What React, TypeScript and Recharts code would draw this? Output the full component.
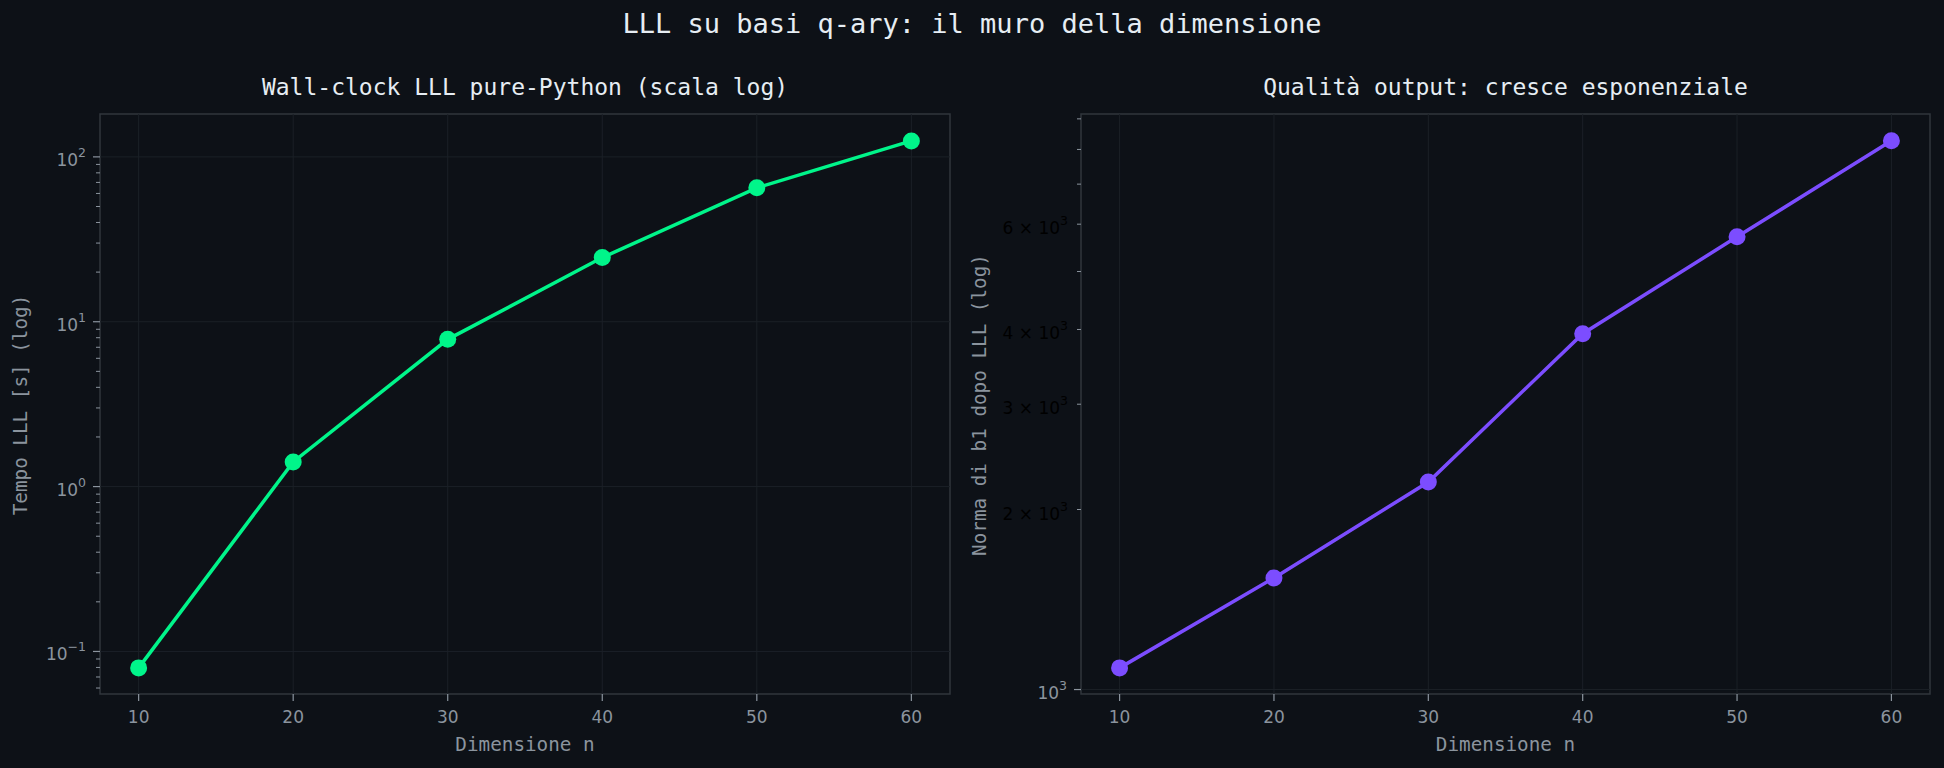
import { LineChart, Line, XAxis, YAxis, ReferenceLine, ReferenceArea } from "recharts";

// dimensione del reticolo
const dims = [10, 20, 30, 40, 50, 60];
// tempo LLL in secondi
const tempoLLL = [0.0795, 1.41, 7.82, 24.5, 64.9, 125];
// norma di b1 dopo LLL
const normaB1 = [1087, 1537, 2223, 3936, 5715, 8273];

const xTicks = [10, 20, 30, 40, 50, 60];
const tempoMajor = [0.1, 1, 10, 100];
const normaMajor = [1000];
const normaMinorLabels = [2000, 3000, 4000, 6000];

const BG = "#0d1117";
const FRAME = "#30363d";
const GRID = "#1b2027";
const MUTED = "#8b949e";
const TITLE = "#e6edf3";
const GREEN = "#00f58a";
const PURPLE = "#7c4dff";
const MONO = "'DejaVu Sans Mono', monospace";
const SANS = "'DejaVu Sans', sans-serif";

const X_DOMAIN: [number, number] = [7.5, 62.5];
const TEMPO_DOMAIN: [number, number] = [0.0552, 182];
const NORMA_DOMAIN: [number, number] = [983, 9170];

const tempoData = dims.map((d, i) => ({ n: d, t: tempoLLL[i] }));
const normaData = dims.map((d, i) => ({ n: d, v: normaB1[i] }));

function logTicks(domain: [number, number]) {
  const out: number[] = [];
  for (let e = -3; e <= 5; e++) {
    for (let m = 1; m <= 9; m++) {
      const v = m * Math.pow(10, e);
      if (v >= domain[0] && v <= domain[1]) out.push(v);
    }
  }
  return out;
}

const near = (a: number, b: number) => Math.abs(a - b) / b < 1e-6;
const sup = (e: number) => (e < 0 ? "\u2212" + Math.abs(e) : String(e));

function XTick(props: any) {
  const { x, y, payload } = props;
  return (
    <g>
      <line x1={x} x2={x} y1={y} y2={y + 7} stroke={MUTED} strokeWidth={1.2} />
      <text x={x} y={y + 29} textAnchor="middle" fill={MUTED} fontSize={17} fontFamily={SANS}>
        {payload.value}
      </text>
    </g>
  );
}

function makeYTick(majors: number[], minorLabels: number[]) {
  return function YTick(props: any) {
    const { x, y, payload } = props;
    const v = payload.value as number;
    const major = majors.some((m) => near(v, m));
    const labelled = minorLabels.some((m) => near(v, m));
    const e = Math.floor(Math.log10(v) + 1e-9);
    const mant = Math.round(v / Math.pow(10, e));
    return (
      <g>
        <line x1={x - (major ? 7 : 4)} x2={x} y1={y} y2={y} stroke={MUTED} strokeWidth={major ? 1.2 : 1} />
        {major && (
          <text x={x - 14} y={y + 9} textAnchor="end" fill={MUTED} fontSize={17} fontFamily={SANS}>
            10
            <tspan dy={-9} fontSize={12.5}>
              {sup(e)}
            </tspan>
          </text>
        )}
        {labelled && (
          <text x={x - 13} y={y + 10} textAnchor="end" fill="#000000" fontSize={17} fontFamily={SANS}>
            {`${mant} × 10`}
            <tspan dy={-9} fontSize={12.5}>
              {sup(e)}
            </tspan>
          </text>
        )}
      </g>
    );
  };
}

const TempoTick = makeYTick(tempoMajor, []);
const NormaTick = makeYTick(normaMajor, normaMinorLabels);

function Panel(props: {
  data: any[];
  dataKey: string;
  color: string;
  domain: [number, number];
  majors: number[];
  tick: any;
  yWidth: number;
  right: number;
}) {
  const { data, dataKey, color, domain, majors, tick, yWidth, right } = props;
  return (
    <LineChart width={972} height={768} data={data} margin={{ top: 114, right, bottom: 34, left: 0 }}>
      {xTicks.map((v) => (
        <ReferenceLine key={"vx" + v} x={v} stroke={GRID} strokeWidth={1} ifOverflow="hidden" />
      ))}
      {majors.map((v) => (
        <ReferenceLine key={"hy" + v} y={v} stroke={GRID} strokeWidth={1} ifOverflow="hidden" />
      ))}
      <XAxis
        dataKey="n"
        type="number"
        domain={X_DOMAIN}
        ticks={xTicks}
        interval={0}
        allowDataOverflow
        axisLine={false}
        tickLine={false}
        tickSize={0}
        tickMargin={0}
        height={40}
        tick={<XTick />}
      />
      <YAxis
        type="number"
        scale="log"
        domain={domain}
        ticks={logTicks(domain)}
        interval={0}
        allowDataOverflow
        axisLine={false}
        tickLine={false}
        tickSize={0}
        tickMargin={0}
        width={yWidth}
        tick={tick}
      />
      <ReferenceArea
        x1={X_DOMAIN[0]}
        x2={X_DOMAIN[1]}
        y1={domain[0]}
        y2={domain[1]}
        fill="none"
        fillOpacity={0}
        stroke={FRAME}
        strokeWidth={1.5}
        ifOverflow="visible"
      />
      <Line
        type="linear"
        dataKey={dataKey}
        stroke={color}
        strokeWidth={3.5}
        dot={{ r: 8.5, fill: color, stroke: "none" }}
        activeDot={false}
        isAnimationActive={false}
      />
    </LineChart>
  );
}

export default function App() {
  return (
    <div style={{ position: "absolute", left: 0, top: 0, width: 1944, height: 768, background: BG, overflow: "hidden" }}>
      <div style={{ position: "absolute", left: 0, top: 0 }}>
        <Panel
          data={tempoData}
          dataKey="t"
          color={GREEN}
          domain={TEMPO_DOMAIN}
          majors={tempoMajor}
          tick={TempoTick}
          yWidth={100}
          right={22}
        />
      </div>
      <div style={{ position: "absolute", left: 972, top: 0 }}>
        <Panel
          data={normaData}
          dataKey="v"
          color={PURPLE}
          domain={NORMA_DOMAIN}
          majors={normaMajor}
          tick={NormaTick}
          yWidth={109}
          right={14}
        />
      </div>
      <svg width={1944} height={768} style={{ position: "absolute", left: 0, top: 0, pointerEvents: "none" }}>
        <text x={972} y={33} textAnchor="middle" fill={TITLE} fontSize={27} fontFamily={MONO}>
          LLL su basi q-ary: il muro della dimensione
        </text>
        <text x={525} y={95} textAnchor="middle" fill={TITLE} fontSize={23} fontFamily={MONO}>
          Wall-clock LLL pure-Python (scala log)
        </text>
        <text x={1505.5} y={95} textAnchor="middle" fill={TITLE} fontSize={23} fontFamily={MONO}>
          Qualità output: cresce esponenziale
        </text>
        <text x={525} y={751} textAnchor="middle" fill={MUTED} fontSize={19.3} fontFamily={MONO}>
          Dimensione n
        </text>
        <text x={1505.5} y={751} textAnchor="middle" fill={MUTED} fontSize={19.3} fontFamily={MONO}>
          Dimensione n
        </text>
        <text
          x={27}
          y={405}
          transform="rotate(-90 27 405)"
          textAnchor="middle"
          fill={MUTED}
          fontSize={19.3}
          fontFamily={MONO}
        >
          Tempo LLL [s] (log)
        </text>
        <text
          x={986}
          y={405}
          transform="rotate(-90 986 405)"
          textAnchor="middle"
          fill={MUTED}
          fontSize={19.3}
          fontFamily={MONO}
        >
          Norma di b1 dopo LLL (log)
        </text>
      </svg>
    </div>
  );
}
